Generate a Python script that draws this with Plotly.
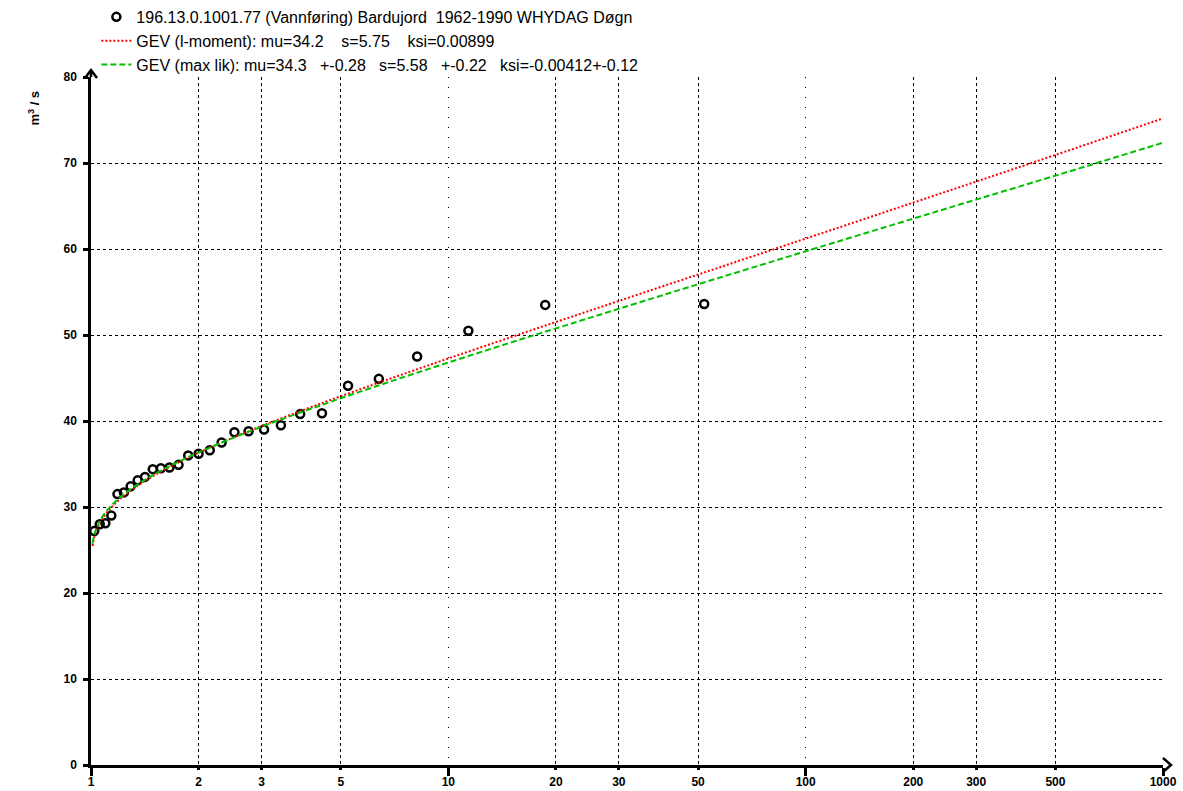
import plotly.graph_objects as go

# Observed annual maxima (return period in years, discharge m3/s)
T_obs = [52.0, 18.67, 11.38, 8.18, 6.39, 5.24, 4.43, 3.85, 3.40, 3.05, 2.76, 2.52, 2.32, 2.15,
         2.00, 1.871, 1.758, 1.658, 1.569, 1.489, 1.416, 1.351, 1.291, 1.236, 1.186, 1.140,
         1.097, 1.058, 1.021]
Q_obs = [53.6, 53.5, 50.5, 47.5, 44.9, 44.1, 40.9, 40.8, 39.5, 39.0, 38.8, 38.7, 37.5, 36.6,
         36.2, 36.0, 34.9, 34.6, 34.5, 34.4, 33.5, 33.1, 32.4, 31.7, 31.5, 29.0, 28.1, 28.0, 27.2]

# Fitted curves
T_fit = [1.01, 1.02, 1.03, 1.05, 1.07, 1.1, 1.15, 1.2, 1.3, 1.4, 1.5, 1.7, 2, 2.5, 3, 4, 5, 7,
         10, 15, 20, 30, 50, 70, 100, 200, 300, 500, 1000]
Q_lmom = [25.47, 26.38, 26.98, 27.83, 28.46, 29.19, 30.12, 30.86, 32.00, 32.91, 33.66, 34.89,
          36.31, 38.07, 39.41, 41.40, 42.88, 45.04, 47.27, 49.76, 51.51, 53.96, 57.03, 59.06,
          61.21, 65.39, 67.84, 70.94, 75.18]
Q_ml = [25.74, 26.64, 27.23, 28.07, 28.69, 29.41, 30.32, 31.04, 32.16, 33.04, 33.78, 34.97,
        36.34, 38.04, 39.33, 41.23, 42.64, 44.69, 46.80, 49.14, 50.77, 53.05, 55.90, 57.76,
        59.73, 63.53, 65.75, 68.53, 72.36]

major_x = [1, 10, 100, 1000]
minor_x = [2, 3, 5, 20, 30, 50, 200, 300, 500]
y_ticks = [0, 10, 20, 30, 40, 50, 60, 70, 80]

name_obs = "196.13.0.1001.77 (Vannføring) Bardujord\u00a0\u00a01962-1990 WHYDAG Døgn"
name_lm = "GEV (l-moment): mu=34.2\u00a0\u00a0\u00a0\u00a0s=5.75\u00a0\u00a0\u00a0\u00a0ksi=0.00899"
name_ml = ("GEV (max lik): mu=34.3\u00a0\u00a0\u00a0+-0.28\u00a0\u00a0\u00a0s=5.58\u00a0\u00a0\u00a0"
           "+-0.22\u00a0\u00a0\u00a0ksi=-0.00412+-0.12")

FONT = "Liberation Sans, Arial, sans-serif"

fig = go.Figure()
fig.add_trace(go.Scatter(x=T_obs, y=Q_obs, mode="markers", name=name_obs,
                         marker=dict(symbol="circle-open", size=8, color="black",
                                     line=dict(width=2.5, color="black"))))
fig.add_trace(go.Scatter(x=T_fit, y=Q_lmom, mode="lines", name=name_lm, line_shape="spline",
                         line=dict(color="#ff0000", width=2, dash="2px,2px")))
fig.add_trace(go.Scatter(x=T_fit, y=Q_ml, mode="lines", name=name_ml, line_shape="spline",
                         line=dict(color="#00c000", width=2, dash="6px,3px")))
# invisible trace on overlay axis carrying the minor tick labels
fig.add_trace(go.Scatter(x=minor_x, y=[None]*len(minor_x), xaxis="x2", showlegend=False,
                         hoverinfo="skip", mode="markers"))

tickfont = dict(family=FONT, size=12, color="black", weight="bold")

fig.update_layout(
    width=1183, height=791,
    margin=dict(l=91, r=20, t=77, b=26, autoexpand=False),
    paper_bgcolor="white", plot_bgcolor="white",
    font=dict(family=FONT, color="black"),
    showlegend=True,
    legend=dict(x=0.005, y=1.112, xanchor="left", yanchor="top", bgcolor="rgba(0,0,0,0)",
                font=dict(size=16, family=FONT, color="black"),
                itemwidth=30, tracegroupgap=0),
    xaxis=dict(type="log", range=[0, 3], tickvals=major_x,
               ticktext=[str(v) for v in major_x],
               ticks="outside", ticklen=8, tickwidth=3, tickcolor="black",
               ticklabelstandoff=-4,
               showline=True, linecolor="black", linewidth=2.5,
               showgrid=True, gridcolor="black", gridwidth=1, griddash="1px,9px",
               zeroline=False, tickfont=tickfont, automargin=False,
               minor=dict(tickvals=minor_x, ticks="", showgrid=True, gridcolor="black",
                          gridwidth=1, griddash="3px,3px")),
    xaxis2=dict(type="log", range=[0, 3], overlaying="x", side="bottom", anchor="y",
                tickvals=minor_x, ticktext=[str(v) for v in minor_x],
                ticks="outside", ticklen=4, tickwidth=3, tickcolor="black",
                ticklabelstandoff=2,
                showgrid=False, showline=False, zeroline=False, tickfont=tickfont,
                automargin=False),
    yaxis=dict(range=[0, 80], tickvals=y_ticks, ticktext=[str(v) for v in y_ticks],
               ticks="outside", ticklen=5, tickwidth=3, tickcolor="black",
               ticklabelstandoff=4,
               showline=True, linecolor="black", linewidth=2.5,
               showgrid=True, gridcolor="black", gridwidth=1, griddash="3px,3px",
               zeroline=False, tickfont=tickfont, automargin=False),
)

# axis title at top of y axis
fig.add_annotation(xref="paper", yref="paper", x=-0.0535, y=0.955, xanchor="center",
                   yanchor="middle", text="m<sup>3</sup> / s",
                   textangle=-90, showarrow=False,
                   font=dict(size=13, family=FONT, color="black", weight="bold"))
# axis arrowheads drawn as pixel-sized shapes anchored at the axis ends
fig.add_shape(type="path", xref="paper", yref="paper", xsizemode="pixel", ysizemode="pixel",
              xanchor=0, yanchor=1, path="M -6,-1 L 0,7 L 6,-1",
              line=dict(color="black", width=2.5))
fig.add_shape(type="line", xref="paper", yref="paper", xsizemode="pixel", ysizemode="pixel",
              xanchor=0, yanchor=1, x0=0, x1=0, y0=0, y1=7,
              line=dict(color="black", width=2.5))
fig.add_shape(type="path", xref="paper", yref="paper", xsizemode="pixel", ysizemode="pixel",
              xanchor=1, yanchor=0, path="M 0,7 L 8,0 L 0,-7",
              line=dict(color="black", width=2.5))

fig.write_html("out.html", config={"displayModeBar": False},
               post_script="document.body.style.margin='0';document.body.style.overflow='hidden';")
